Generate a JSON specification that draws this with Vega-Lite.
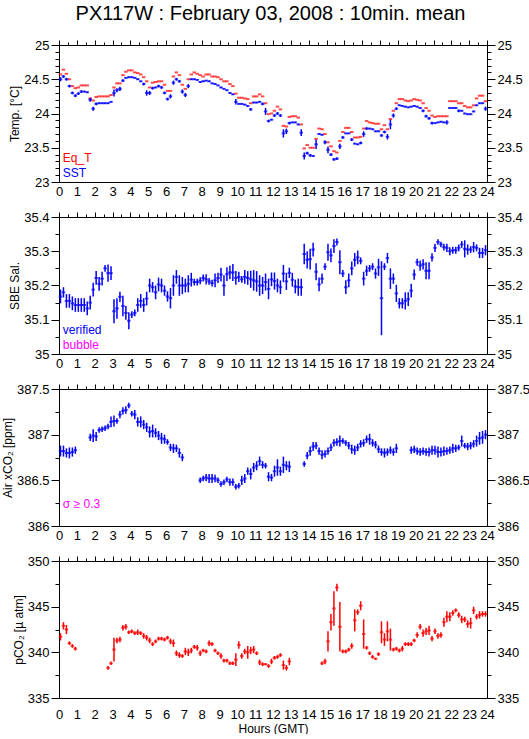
{
"$schema":"https://vega.github.io/schema/vega-lite/v6.json",
"background":"white",
"padding":{"left":1,"top":4,"right":0,"bottom":0},
"title":{"text":"PX117W : February 03, 2008 : 10min. mean","fontSize":20,"font":"Liberation Sans","fontWeight":"normal","color":"#000000","offset":15,"anchor":"middle","dx":5},
"config":{"view":{"stroke":null},"axis":{"labelFont":"Liberation Sans","labelFontSize":13,"labelColor":"#000000","titleFont":"Liberation Sans","titleFontSize":12,"titleFontWeight":"normal","titleColor":"#000000","domainColor":"#000000","tickColor":"#000000","grid":false,"labelOverlap":false,"labelFlush":false}},
"data":{"values":[
{"m":5,"eq":24.57,"s":24.5,"se":0.03,"sa":35.168,"sae":0.02,"x":386.82,"xe":0.06,"p":341.7,"pe":0.4},
{"m":15,"eq":24.64,"s":24.54,"se":0.02,"sa":35.18,"sae":0.015,"x":386.82,"xe":0.06,"p":342.9,"pe":0.4},
{"m":25,"eq":24.58,"s":24.5,"se":0.02,"sa":35.155,"sae":0.02,"x":386.8,"xe":0.05,"p":342.5,"pe":0.5},
{"m":35,"eq":24.5,"s":24.4,"se":0.02,"sa":35.155,"sae":0.02,"x":386.8,"xe":0.06,"p":341.0,"pe":0.2},
{"m":45,"eq":24.4,"s":24.3,"se":0.02,"sa":35.148,"sae":0.02,"x":386.81,"xe":0.05,"p":340.7,"pe":0.2},
{"m":55,"eq":24.37,"s":24.26,"se":0.02,"sa":35.143,"sae":0.02,"x":386.83,"xe":0.04,"p":340.4,"pe":0.2},
{"m":65,"eq":24.38,"s":24.29,"se":0.02,"sa":35.143,"sae":0.02},
{"m":75,"eq":24.41,"s":24.32,"se":0.02,"sa":35.143,"sae":0.02},
{"m":85,"eq":24.41,"s":24.32,"se":0.01,"sa":35.143,"sae":0.02},
{"m":95,"eq":24.41,"s":24.31,"se":0.01,"sa":35.133,"sae":0.02},
{"m":105,"eq":24.22,"s":24.2,"se":0.03,"sa":35.15,"sae":0.02,"x":386.97,"xe":0.04},
{"m":115,"eq":24.19,"s":24.07,"se":0.03,"sa":35.188,"sae":0.02,"x":386.99,"xe":0.07},
{"m":125,"eq":24.24,"s":24.14,"se":0.02,"sa":35.222,"sae":0.02,"x":386.98,"xe":0.05},
{"m":135,"eq":24.25,"s":24.15,"se":0.01,"sa":35.205,"sae":0.02,"x":387.05,"xe":0.03},
{"m":145,"eq":24.25,"s":24.15,"se":0.01,"sa":35.22,"sae":0.02,"x":387.06,"xe":0.03},
{"m":155,"eq":24.25,"s":24.15,"se":0.01,"sa":35.25,"sae":0.01,"x":387.07,"xe":0.03},
{"m":165,"eq":24.25,"s":24.15,"se":0.01,"sa":35.236,"sae":0.025,"x":387.09,"xe":0.03,"p":338.3,"pe":0.2},
{"m":175,"eq":24.27,"s":24.17,"se":0.01,"sa":35.236,"sae":0.02,"x":387.14,"xe":0.06,"p":338.8,"pe":0.2},
{"m":185,"eq":24.38,"s":24.3,"se":0.05,"sa":35.125,"sae":0.035,"x":387.15,"xe":0.06,"p":340.3,"pe":1.3},
{"m":195,"eq":24.44,"s":24.34,"se":0.03,"sa":35.133,"sae":0.03,"x":387.15,"xe":0.03,"p":341.3,"pe":0.3},
{"m":205,"eq":24.44,"s":24.36,"se":0.03,"sa":35.167,"sae":0.015,"x":387.22,"xe":0.04,"p":341.4,"pe":0.3},
{"m":215,"eq":24.56,"s":24.48,"se":0.02,"sa":35.14,"sae":0.03,"x":387.26,"xe":0.04,"p":342.7,"pe":0.3},
{"m":225,"eq":24.61,"s":24.52,"se":0.01,"sa":35.12,"sae":0.02,"x":387.27,"xe":0.04,"p":342.8,"pe":0.3},
{"m":235,"eq":24.63,"s":24.53,"se":0.01,"sa":35.097,"sae":0.025,"x":387.32,"xe":0.03,"p":342.2,"pe":0.2},
{"m":245,"eq":24.63,"s":24.53,"se":0.01,"sa":35.115,"sae":0.01,"x":387.23,"xe":0.03,"p":342.3,"pe":0.2},
{"m":255,"eq":24.6,"s":24.52,"se":0.01,"sa":35.12,"sae":0.01,"x":387.22,"xe":0.05,"p":342.1,"pe":0.2},
{"m":265,"eq":24.59,"s":24.5,"se":0.01,"sa":35.143,"sae":0.02,"x":387.14,"xe":0.05,"p":342.2,"pe":0.3},
{"m":275,"eq":24.57,"s":24.47,"se":0.01,"sa":35.155,"sae":0.02,"x":387.14,"xe":0.06,"p":342.1,"pe":0.2},
{"m":285,"eq":24.53,"s":24.43,"se":0.02,"sa":35.143,"sae":0.02,"x":387.11,"xe":0.05,"p":341.8,"pe":0.3},
{"m":295,"eq":24.47,"s":24.3,"se":0.04,"sa":35.162,"sae":0.02,"x":387.08,"xe":0.05,"p":341.6,"pe":0.3},
{"m":305,"eq":24.38,"s":24.3,"se":0.03,"sa":35.2,"sae":0.02,"x":387.03,"xe":0.06,"p":341.3,"pe":0.3},
{"m":315,"eq":24.45,"s":24.37,"se":0.02,"sa":35.195,"sae":0.015,"x":387.04,"xe":0.07,"p":340.9,"pe":0.2},
{"m":325,"eq":24.46,"s":24.38,"se":0.01,"sa":35.18,"sae":0.02,"x":387.02,"xe":0.05,"p":341.2,"pe":0.2},
{"m":335,"eq":24.47,"s":24.4,"se":0.02,"sa":35.203,"sae":0.02,"x":386.99,"xe":0.05,"p":341.5,"pe":0.2},
{"m":345,"eq":24.47,"s":24.38,"se":0.02,"sa":35.2,"sae":0.02,"x":386.96,"xe":0.06,"p":341.5,"pe":0.2},
{"m":355,"eq":24.42,"s":24.3,"se":0.02,"sa":35.185,"sae":0.015,"x":386.95,"xe":0.05,"p":341.4,"pe":0.2},
{"m":365,"eq":24.33,"s":24.21,"se":0.02,"sa":35.168,"sae":0.015,"x":386.92,"xe":0.03,"p":341.6,"pe":0.2},
{"m":375,"eq":24.33,"s":24.25,"se":0.03,"sa":35.163,"sae":0.03,"x":386.86,"xe":0.04,"p":341.2,"pe":0.3},
{"m":385,"eq":24.54,"s":24.45,"se":0.03,"sa":35.2,"sae":0.03,"x":386.85,"xe":0.05,"p":341.0,"pe":0.4},
{"m":395,"eq":24.6,"s":24.5,"se":0.02,"sa":35.225,"sae":0.02,"x":386.85,"xe":0.04,"p":339.9,"pe":0.3},
{"m":405,"eq":24.56,"s":24.47,"se":0.02,"sa":35.2,"sae":0.03,"x":386.8,"xe":0.05,"p":339.7,"pe":0.3},
{"m":415,"eq":24.42,"s":24.32,"se":0.03,"sa":35.2,"sae":0.025,"x":386.75,"xe":0.04,"p":339.6,"pe":0.2},
{"m":425,"eq":24.36,"s":24.27,"se":0.03,"sa":35.2,"sae":0.02,"p":340.1,"pe":0.4},
{"m":435,"eq":24.5,"s":24.4,"se":0.03,"sa":35.205,"sae":0.025,"p":340.0,"pe":0.4},
{"m":445,"eq":24.57,"s":24.5,"se":0.01,"sa":35.217,"sae":0.02,"p":340.2,"pe":0.3},
{"m":455,"eq":24.6,"s":24.5,"se":0.01,"sa":35.21,"sae":0.01,"p":340.6,"pe":0.2},
{"m":465,"eq":24.58,"s":24.49,"se":0.01,"sa":35.21,"sae":0.01,"p":340.5,"pe":0.3},
{"m":475,"eq":24.56,"s":24.46,"se":0.01,"sa":35.214,"sae":0.01,"x":386.5,"xe":0.03,"p":339.9,"pe":0.3},
{"m":485,"eq":24.54,"s":24.47,"se":0.01,"sa":35.222,"sae":0.01,"x":386.52,"xe":0.03,"p":340.2,"pe":0.2},
{"m":495,"eq":24.57,"s":24.48,"se":0.01,"sa":35.218,"sae":0.015,"x":386.53,"xe":0.04,"p":340.1,"pe":0.2},
{"m":505,"eq":24.57,"s":24.47,"se":0.01,"sa":35.212,"sae":0.01,"x":386.52,"xe":0.05,"p":341.0,"pe":0.3},
{"m":515,"eq":24.54,"s":24.44,"se":0.01,"sa":35.207,"sae":0.01,"x":386.52,"xe":0.05,"p":340.9,"pe":0.2},
{"m":525,"eq":24.54,"s":24.43,"se":0.01,"sa":35.215,"sae":0.02,"x":386.52,"xe":0.04,"p":340.2,"pe":0.2},
{"m":535,"eq":24.53,"s":24.41,"se":0.01,"sa":35.222,"sae":0.015,"x":386.5,"xe":0.03,"p":339.9,"pe":0.2},
{"m":545,"eq":24.5,"s":24.38,"se":0.01,"sa":35.232,"sae":0.02,"x":386.46,"xe":0.03,"p":339.6,"pe":0.3},
{"m":555,"eq":24.47,"s":24.36,"se":0.01,"sa":35.2,"sae":0.03,"x":386.48,"xe":0.03,"p":339.1,"pe":0.2},
{"m":565,"eq":24.47,"s":24.34,"se":0.01,"sa":35.233,"sae":0.02,"x":386.51,"xe":0.03,"p":339.1,"pe":0.2},
{"m":575,"eq":24.43,"s":24.3,"se":0.01,"sa":35.238,"sae":0.02,"x":386.48,"xe":0.04,"p":338.8,"pe":0.2},
{"m":585,"eq":24.4,"s":24.28,"se":0.01,"sa":35.238,"sae":0.025,"x":386.48,"xe":0.04,"p":338.8,"pe":0.2},
{"m":595,"eq":24.29,"s":24.17,"se":0.04,"sa":35.222,"sae":0.02,"x":386.43,"xe":0.03,"p":339.2,"pe":0.7},
{"m":605,"eq":24.23,"s":24.14,"se":0.01,"sa":35.225,"sae":0.015,"x":386.44,"xe":0.03,"p":340.8,"pe":0.4},
{"m":615,"eq":24.23,"s":24.14,"se":0.01,"sa":35.218,"sae":0.01,"x":386.5,"xe":0.05,"p":339.6,"pe":0.3},
{"m":625,"eq":24.22,"s":24.13,"se":0.01,"sa":35.225,"sae":0.02,"x":386.52,"xe":0.05,"p":340.1,"pe":0.3},
{"m":635,"eq":24.21,"s":24.11,"se":0.01,"sa":35.222,"sae":0.02,"x":386.6,"xe":0.04,"p":340.0,"pe":0.7},
{"m":645,"eq":24.15,"s":24.06,"se":0.02,"sa":35.218,"sae":0.025,"x":386.57,"xe":0.06,"p":340.2,"pe":0.4},
{"m":655,"eq":24.25,"s":24.16,"se":0.01,"sa":35.215,"sae":0.03,"x":386.64,"xe":0.05,"p":340.3,"pe":0.4},
{"m":665,"eq":24.25,"s":24.16,"se":0.01,"sa":35.212,"sae":0.03,"x":386.66,"xe":0.05,"p":339.9,"pe":0.2},
{"m":675,"eq":24.28,"s":24.17,"se":0.01,"sa":35.2,"sae":0.03,"x":386.71,"xe":0.05,"p":338.9,"pe":0.3},
{"m":685,"eq":24.25,"s":24.14,"se":0.02,"sa":35.2,"sae":0.025,"x":386.67,"xe":0.04,"p":338.7,"pe":0.2},
{"m":695,"eq":24.15,"s":24.03,"se":0.05,"sa":35.21,"sae":0.025,"x":386.66,"xe":0.03,"p":338.7,"pe":0.1},
{"m":705,"eq":23.99,"s":23.89,"se":0.02,"sa":35.19,"sae":0.03,"x":386.54,"xe":0.05,"p":338.5,"pe":0.2},
{"m":715,"eq":24.0,"s":23.91,"se":0.01,"sa":35.218,"sae":0.02,"x":386.53,"xe":0.04,"p":339.0,"pe":0.3},
{"m":725,"eq":24.04,"s":23.97,"se":0.02,"sa":35.213,"sae":0.025,"x":386.6,"xe":0.06,"p":339.4,"pe":0.2},
{"m":735,"eq":24.1,"s":24.0,"se":0.02,"sa":35.2,"sae":0.02,"x":386.64,"xe":0.09,"p":339.5,"pe":0.2},
{"m":745,"eq":24.06,"s":23.97,"se":0.02,"sa":35.195,"sae":0.02,"x":386.6,"xe":0.05,"p":339.7,"pe":0.2},
{"m":755,"eq":23.82,"s":23.71,"se":0.06,"sa":35.235,"sae":0.025,"x":386.67,"xe":0.09,"p":338.6,"pe":0.5},
{"m":765,"eq":23.81,"s":23.74,"se":0.04,"sa":35.212,"sae":0.025,"x":386.66,"xe":0.05,"p":338.3,"pe":0.3},
{"m":775,"eq":23.95,"s":23.86,"se":0.02,"sa":35.237,"sae":0.015,"x":386.65,"xe":0.06,"p":339.0,"pe":0.4},
{"m":785,"eq":23.96,"s":23.87,"se":0.01,"sa":35.217,"sae":0.02},
{"m":795,"eq":23.96,"s":23.87,"se":0.01,"sa":35.197,"sae":0.02},
{"m":805,"eq":23.94,"s":23.84,"se":0.01,"sa":35.195,"sae":0.025},
{"m":815,"eq":23.84,"s":23.72,"se":0.05,"sa":35.195,"sae":0.025},
{"m":825,"eq":23.49,"s":23.38,"se":0.05,"sa":35.292,"sae":0.03,"x":386.68,"xe":0.03},
{"m":835,"eq":23.54,"s":23.42,"se":0.02,"sa":35.275,"sae":0.025,"x":386.77,"xe":0.04},
{"m":845,"eq":23.5,"s":23.39,"se":0.02,"sa":35.277,"sae":0.03,"x":386.82,"xe":0.05},
{"m":855,"eq":23.5,"s":23.38,"se":0.01,"sa":35.305,"sae":0.02,"x":386.87,"xe":0.05},
{"m":865,"eq":23.63,"s":23.55,"se":0.07,"sa":35.24,"sae":0.025,"x":386.88,"xe":0.04},
{"m":875,"eq":23.78,"s":23.7,"se":0.01,"sa":35.203,"sae":0.02,"x":386.82,"xe":0.04},
{"m":885,"eq":23.77,"s":23.69,"se":0.01,"sa":35.22,"sae":0.015,"x":386.78,"xe":0.05,"p":338.8,"pe":0.2},
{"m":895,"eq":23.7,"s":23.58,"se":0.03,"sa":35.255,"sae":0.01,"x":386.79,"xe":0.04,"p":339.0,"pe":0.3},
{"m":905,"eq":23.58,"s":23.47,"se":0.05,"sa":35.297,"sae":0.025,"x":386.82,"xe":0.04,"p":341.2,"pe":1.1},
{"m":915,"eq":23.52,"s":23.4,"se":0.02,"sa":35.288,"sae":0.02,"x":386.86,"xe":0.04,"p":343.3,"pe":0.9},
{"m":925,"eq":23.45,"s":23.33,"se":0.02,"sa":35.315,"sae":0.02,"x":386.91,"xe":0.04,"p":344.8,"pe":1.9},
{"m":935,"eq":23.43,"s":23.34,"se":0.02,"sa":35.327,"sae":0.01,"x":386.92,"xe":0.04,"p":347.1,"pe":0.4},
{"m":945,"eq":23.6,"s":23.52,"se":0.04,"sa":35.268,"sae":0.035,"x":386.93,"xe":0.06,"p":342.8,"pe":2.7},
{"m":955,"eq":23.73,"s":23.65,"se":0.02,"sa":35.235,"sae":0.01,"x":386.93,"xe":0.03,"p":340.1,"pe":0.2},
{"m":965,"eq":23.79,"s":23.71,"se":0.01,"sa":35.195,"sae":0.02,"x":386.91,"xe":0.03,"p":340.1,"pe":0.2},
{"m":975,"eq":23.79,"s":23.71,"se":0.01,"sa":35.215,"sae":0.02,"x":386.88,"xe":0.04,"p":340.3,"pe":0.2},
{"m":985,"eq":23.73,"s":23.62,"se":0.02,"sa":35.25,"sae":0.02,"x":386.84,"xe":0.05,"p":340.7,"pe":0.3},
{"m":995,"eq":23.65,"s":23.56,"se":0.01,"sa":35.275,"sae":0.02,"x":386.83,"xe":0.05,"p":343.5,"pe":1.2},
{"m":1005,"eq":23.65,"s":23.55,"se":0.01,"sa":35.282,"sae":0.02,"x":386.86,"xe":0.04,"p":344.4,"pe":0.3},
{"m":1015,"eq":23.66,"s":23.57,"se":0.02,"sa":35.272,"sae":0.01,"x":386.9,"xe":0.04,"p":345.1,"pe":0.5},
{"m":1025,"eq":23.78,"s":23.7,"se":0.04,"sa":35.22,"sae":0.02,"x":386.91,"xe":0.04,"p":342.0,"pe":1.6},
{"m":1035,"eq":23.89,"s":23.78,"se":0.02,"sa":35.243,"sae":0.015,"x":386.95,"xe":0.04,"p":340.5,"pe":0.2},
{"m":1045,"eq":23.87,"s":23.78,"se":0.01,"sa":35.25,"sae":0.01,"x":386.95,"xe":0.06,"p":339.9,"pe":0.2},
{"m":1055,"eq":23.86,"s":23.77,"se":0.01,"sa":35.255,"sae":0.01,"x":386.91,"xe":0.04,"p":339.5,"pe":0.2},
{"m":1065,"eq":23.85,"s":23.74,"se":0.01,"sa":35.235,"sae":0.015,"x":386.89,"xe":0.04,"p":339.3,"pe":0.1},
{"m":1075,"eq":23.85,"s":23.74,"se":0.01,"sa":35.253,"sae":0.025,"x":386.84,"xe":0.04,"p":339.8,"pe":0.2},
{"m":1085,"eq":23.77,"s":23.68,"se":0.02,"sa":35.163,"sae":0.108,"x":386.81,"xe":0.04,"p":342.2,"pe":1.2},
{"m":1095,"eq":23.83,"s":23.73,"se":0.02,"sa":35.255,"sae":0.01,"x":386.8,"xe":0.05,"p":341.4,"pe":0.7},
{"m":1105,"eq":23.77,"s":23.66,"se":0.04,"sa":35.28,"sae":0.015,"x":386.81,"xe":0.04,"p":342.3,"pe":1.1},
{"m":1115,"eq":23.92,"s":23.84,"se":0.07,"sa":35.22,"sae":0.03,"x":386.83,"xe":0.04,"p":341.4,"pe":1.2},
{"m":1125,"eq":24.04,"s":23.97,"se":0.03,"sa":35.22,"sae":0.015,"x":386.81,"xe":0.04,"p":340.3,"pe":0.2},
{"m":1135,"eq":24.15,"s":24.07,"se":0.02,"sa":35.177,"sae":0.025,"x":386.85,"xe":0.05,"p":340.4,"pe":0.2},
{"m":1145,"eq":24.21,"s":24.12,"se":0.01,"sa":35.148,"sae":0.015,"p":340.2,"pe":0.2},
{"m":1155,"eq":24.21,"s":24.11,"se":0.01,"sa":35.148,"sae":0.015,"p":340.4,"pe":0.3},
{"m":1165,"eq":24.19,"s":24.1,"se":0.01,"sa":35.155,"sae":0.025,"p":340.9,"pe":0.2},
{"m":1175,"eq":24.18,"s":24.09,"se":0.01,"sa":35.16,"sae":0.02,"p":340.9,"pe":0.2},
{"m":1185,"eq":24.19,"s":24.1,"se":0.01,"sa":35.185,"sae":0.02,"x":386.83,"xe":0.04,"p":340.9,"pe":0.2},
{"m":1195,"eq":24.21,"s":24.11,"se":0.01,"sa":35.232,"sae":0.015,"x":386.84,"xe":0.04,"p":341.3,"pe":0.2},
{"m":1205,"eq":24.2,"s":24.1,"se":0.01,"sa":35.268,"sae":0.01,"x":386.82,"xe":0.04,"p":341.9,"pe":0.3},
{"m":1215,"eq":24.19,"s":24.08,"se":0.01,"sa":35.258,"sae":0.015,"x":386.81,"xe":0.04,"p":342.8,"pe":0.3},
{"m":1225,"eq":24.15,"s":24.04,"se":0.02,"sa":35.262,"sae":0.015,"x":386.82,"xe":0.04,"p":342.1,"pe":0.4},
{"m":1235,"eq":24.08,"s":23.96,"se":0.02,"sa":35.243,"sae":0.025,"x":386.81,"xe":0.04,"p":342.3,"pe":0.4},
{"m":1245,"eq":24.04,"s":23.93,"se":0.02,"sa":35.243,"sae":0.025,"x":386.81,"xe":0.05,"p":342.4,"pe":0.5},
{"m":1255,"eq":23.97,"s":23.86,"se":0.02,"sa":35.282,"sae":0.012,"x":386.83,"xe":0.05,"p":341.5,"pe":0.3},
{"m":1265,"eq":23.95,"s":23.86,"se":0.01,"sa":35.31,"sae":0.012,"x":386.83,"xe":0.05,"p":342.3,"pe":0.3},
{"m":1275,"eq":23.96,"s":23.87,"se":0.01,"sa":35.327,"sae":0.008,"x":386.81,"xe":0.06,"p":341.8,"pe":0.3},
{"m":1285,"eq":23.96,"s":23.88,"se":0.01,"sa":35.32,"sae":0.008,"x":386.81,"xe":0.05,"p":341.9,"pe":0.3},
{"m":1295,"eq":23.96,"s":23.87,"se":0.01,"sa":35.312,"sae":0.01,"x":386.82,"xe":0.05,"p":343.3,"pe":0.5},
{"m":1305,"eq":23.96,"s":23.87,"se":0.03,"sa":35.31,"sae":0.012,"x":386.82,"xe":0.04,"p":343.9,"pe":0.6},
{"m":1315,"eq":24.18,"s":24.08,"se":0.01,"sa":35.3,"sae":0.012,"x":386.83,"xe":0.04,"p":343.9,"pe":0.5},
{"m":1325,"eq":24.18,"s":24.08,"se":0.01,"sa":35.303,"sae":0.01,"x":386.85,"xe":0.05,"p":344.3,"pe":0.3},
{"m":1335,"eq":24.18,"s":24.08,"se":0.01,"sa":35.303,"sae":0.01,"x":386.85,"xe":0.04,"p":344.6,"pe":0.2},
{"m":1345,"eq":24.15,"s":24.04,"se":0.02,"sa":35.31,"sae":0.01,"x":386.86,"xe":0.03,"p":344.1,"pe":0.3},
{"m":1355,"eq":24.15,"s":24.04,"se":0.01,"sa":35.32,"sae":0.01,"x":386.93,"xe":0.06,"p":343.6,"pe":0.4},
{"m":1365,"eq":24.11,"s":24.0,"se":0.01,"sa":35.307,"sae":0.025,"x":386.88,"xe":0.03,"p":343.6,"pe":0.3},
{"m":1375,"eq":24.09,"s":23.99,"se":0.01,"sa":35.305,"sae":0.015,"x":386.87,"xe":0.04,"p":343.1,"pe":0.4},
{"m":1385,"eq":24.09,"s":23.99,"se":0.01,"sa":35.305,"sae":0.01,"x":386.88,"xe":0.04,"p":343.2,"pe":0.6},
{"m":1395,"eq":24.12,"s":24.03,"se":0.01,"sa":35.312,"sae":0.015,"x":386.9,"xe":0.04,"p":344.6,"pe":0.4},
{"m":1405,"eq":24.22,"s":24.12,"se":0.01,"sa":35.31,"sae":0.01,"x":386.93,"xe":0.06,"p":343.9,"pe":0.3},
{"m":1415,"eq":24.26,"s":24.15,"se":0.01,"sa":35.295,"sae":0.015,"x":386.96,"xe":0.07,"p":344.1,"pe":0.4},
{"m":1425,"eq":24.26,"s":24.15,"se":0.01,"sa":35.295,"sae":0.015,"x":386.97,"xe":0.07,"p":344.2,"pe":0.3},
{"m":1435,"eq":24.18,"s":24.07,"se":0.03,"sa":35.303,"sae":0.015,"x":387.0,"xe":0.05,"p":344.2,"pe":0.3}
]},
"vconcat":[
{"width":428,"height":137,
 "layer":[
  {"transform":[{"filter":"isValid(datum.eq)"}],
   "mark":{"type":"tick","orient":"horizontal","size":3.5,"thickness":2,"color":"#ff0000"},
   "encoding":{"x":{"field":"m","type":"quantitative","scale":{"domain":[0,1440],"nice":false},"axis":null},
    "y":{"field":"eq","type":"quantitative","scale":{"domain":[23,25],"nice":false,"zero":false},"axis":null}}},
  {"mark":{"type":"tick","orient":"horizontal","size":3.5,"thickness":2,"color":"#0000ff"},
   "encoding":{"x":{"field":"m","type":"quantitative","scale":{"domain":[0,1440],"nice":false},"axis":{"orient":"bottom","values":[0,60,120,180,240,300,360,420,480,540,600,660,720,780,840,900,960,1020,1080,1140,1200,1260,1320,1380,1440],"labelExpr":"format(datum.value/60,'d')","ticks":false,"labelPadding":3,"title":null}},
    "y":{"field":"s","type":"quantitative","scale":{"domain":[23,25],"nice":false,"zero":false},"axis":{"orient":"left","values":[23,23.1,23.2,23.3,23.4,23.5,23.6,23.7,23.8,23.9,24,24.1,24.2,24.3,24.4,24.5,24.6,24.7,24.8,24.9,25],"labelExpr":"abs(datum.value*2-round(datum.value*2))<0.001 ? format(datum.value,'~g') : ''","tickSize":{"condition":{"test":"abs(datum.value*2-round(datum.value*2))<0.001","value":8},"value":4},"labelPadding":2,"title":"Temp. [°C]","titlePadding":2}}}},
  {"mark":{"type":"errorbar","color":"#0000ff","thickness":1.5},
   "encoding":{"x":{"field":"m","type":"quantitative","scale":{"domain":[0,1440],"nice":false},"axis":{"orient":"top","values":[0,30,60,90,120,150,180,210,240,270,300,330,360,390,420,450,480,510,540,570,600,630,660,690,720,750,780,810,840,870,900,930,960,990,1020,1050,1080,1110,1140,1170,1200,1230,1260,1290,1320,1350,1380,1410,1440],"labels":false,"tickSize":{"condition":{"test":"datum.value%60==0","value":5},"value":3},"title":null}},
    "y":{"field":"s","type":"quantitative","scale":{"domain":[23,25],"nice":false,"zero":false},"axis":{"orient":"right","values":[23,23.1,23.2,23.3,23.4,23.5,23.6,23.7,23.8,23.9,24,24.1,24.2,24.3,24.4,24.5,24.6,24.7,24.8,24.9,25],"labelExpr":"abs(datum.value*2-round(datum.value*2))<0.001 ? format(datum.value,'~g') : ''","tickSize":{"condition":{"test":"abs(datum.value*2-round(datum.value*2))<0.001","value":8},"value":4},"labelPadding":2,"title":null}},
    "yError":{"field":"se"}}},
  {"data":{"values":[{}]},"mark":{"type":"text","align":"left","baseline":"alphabetic","font":"Liberation Sans","fontSize":12,"color":"#ff0000"},
   "encoding":{"x":{"datum":13,"type":"quantitative","scale":{"domain":[0,1440],"nice":false},"axis":null},"y":{"datum":23.29,"type":"quantitative","scale":{"domain":[23,25],"nice":false,"zero":false},"axis":null},"text":{"value":"Eq_T"}}},
  {"data":{"values":[{}]},"mark":{"type":"text","align":"left","baseline":"alphabetic","font":"Liberation Sans","fontSize":12,"color":"#0000ff"},
   "encoding":{"x":{"datum":13,"type":"quantitative","scale":{"domain":[0,1440],"nice":false},"axis":null},"y":{"datum":23.08,"type":"quantitative","scale":{"domain":[23,25],"nice":false,"zero":false},"axis":null},"text":{"value":"SST"}}}
 ],
 "resolve":{"scale":{"x":"independent","y":"independent"}}},
{"width":428,"height":137,
 "layer":[
  {"mark":{"type":"tick","orient":"horizontal","size":3.5,"thickness":2,"color":"#0000ff"},
   "encoding":{"x":{"field":"m","type":"quantitative","scale":{"domain":[0,1440],"nice":false},"axis":{"orient":"bottom","values":[0,60,120,180,240,300,360,420,480,540,600,660,720,780,840,900,960,1020,1080,1140,1200,1260,1320,1380,1440],"labelExpr":"format(datum.value/60,'d')","ticks":false,"labelPadding":3,"title":null}},
    "y":{"field":"sa","type":"quantitative","scale":{"domain":[35,35.4],"nice":false,"zero":false},"axis":{"orient":"left","values":[35,35.05,35.1,35.15,35.2,35.25,35.3,35.35,35.4],"labelExpr":"abs(datum.value*10-round(datum.value*10))<0.001 ? format(datum.value,'~g') : ''","tickSize":{"condition":{"test":"abs(datum.value*10-round(datum.value*10))<0.001","value":8},"value":4},"labelPadding":2,"title":"SBE Sal.","titlePadding":2}}}},
  {"mark":{"type":"errorbar","color":"#0000ff","thickness":1.5},
   "encoding":{"x":{"field":"m","type":"quantitative","scale":{"domain":[0,1440],"nice":false},"axis":{"orient":"top","values":[0,30,60,90,120,150,180,210,240,270,300,330,360,390,420,450,480,510,540,570,600,630,660,690,720,750,780,810,840,870,900,930,960,990,1020,1050,1080,1110,1140,1170,1200,1230,1260,1290,1320,1350,1380,1410,1440],"labels":false,"tickSize":{"condition":{"test":"datum.value%60==0","value":5},"value":3},"title":null}},
    "y":{"field":"sa","type":"quantitative","scale":{"domain":[35,35.4],"nice":false,"zero":false},"axis":{"orient":"right","values":[35,35.05,35.1,35.15,35.2,35.25,35.3,35.35,35.4],"labelExpr":"abs(datum.value*10-round(datum.value*10))<0.001 ? format(datum.value,'~g') : ''","tickSize":{"condition":{"test":"abs(datum.value*10-round(datum.value*10))<0.001","value":8},"value":4},"labelPadding":2,"title":null}},
    "yError":{"field":"sae"}}},
  {"data":{"values":[{}]},"mark":{"type":"text","align":"left","baseline":"alphabetic","font":"Liberation Sans","fontSize":12,"color":"#0000ff"},
   "encoding":{"x":{"datum":13,"type":"quantitative","scale":{"domain":[0,1440],"nice":false},"axis":null},"y":{"datum":35.058,"type":"quantitative","scale":{"domain":[35,35.4],"nice":false,"zero":false},"axis":null},"text":{"value":"verified"}}},
  {"data":{"values":[{}]},"mark":{"type":"text","align":"left","baseline":"alphabetic","font":"Liberation Sans","fontSize":12,"color":"#ff00ff"},
   "encoding":{"x":{"datum":13,"type":"quantitative","scale":{"domain":[0,1440],"nice":false},"axis":null},"y":{"datum":35.016,"type":"quantitative","scale":{"domain":[35,35.4],"nice":false,"zero":false},"axis":null},"text":{"value":"bubble"}}}
 ],
 "resolve":{"scale":{"x":"independent","y":"independent"}}},
{"width":428,"height":137,
 "layer":[
  {"transform":[{"filter":"isValid(datum.x)"}],
   "mark":{"type":"tick","orient":"horizontal","size":3.5,"thickness":2,"color":"#0000ff"},
   "encoding":{"x":{"field":"m","type":"quantitative","scale":{"domain":[0,1440],"nice":false},"axis":{"orient":"bottom","values":[0,60,120,180,240,300,360,420,480,540,600,660,720,780,840,900,960,1020,1080,1140,1200,1260,1320,1380,1440],"labelExpr":"format(datum.value/60,'d')","ticks":false,"labelPadding":3,"title":null}},
    "y":{"field":"x","type":"quantitative","scale":{"domain":[386,387.5],"nice":false,"zero":false},"axis":{"orient":"left","values":[386,386.25,386.5,386.75,387,387.25,387.5],"labelExpr":"abs(datum.value*2-round(datum.value*2))<0.001 ? format(datum.value,'~g') : ''","tickSize":{"condition":{"test":"abs(datum.value*2-round(datum.value*2))<0.001","value":8},"value":4},"labelPadding":2,"title":"Air xCO₂ [ppm]","titlePadding":2}}}},
  {"transform":[{"filter":"isValid(datum.x)"}],
   "mark":{"type":"errorbar","color":"#0000ff","thickness":1.5},
   "encoding":{"x":{"field":"m","type":"quantitative","scale":{"domain":[0,1440],"nice":false},"axis":{"orient":"top","values":[0,30,60,90,120,150,180,210,240,270,300,330,360,390,420,450,480,510,540,570,600,630,660,690,720,750,780,810,840,870,900,930,960,990,1020,1050,1080,1110,1140,1170,1200,1230,1260,1290,1320,1350,1380,1410,1440],"labels":false,"tickSize":{"condition":{"test":"datum.value%60==0","value":5},"value":3},"title":null}},
    "y":{"field":"x","type":"quantitative","scale":{"domain":[386,387.5],"nice":false,"zero":false},"axis":{"orient":"right","values":[386,386.25,386.5,386.75,387,387.25,387.5],"labelExpr":"abs(datum.value*2-round(datum.value*2))<0.001 ? format(datum.value,'~g') : ''","tickSize":{"condition":{"test":"abs(datum.value*2-round(datum.value*2))<0.001","value":8},"value":4},"labelPadding":2,"title":null}},
    "yError":{"field":"xe"}}},
  {"data":{"values":[{}]},"mark":{"type":"text","align":"left","baseline":"alphabetic","font":"Liberation Sans","fontSize":12,"color":"#ff00ff"},
   "encoding":{"x":{"datum":13,"type":"quantitative","scale":{"domain":[0,1440],"nice":false},"axis":null},"y":{"datum":386.2,"type":"quantitative","scale":{"domain":[386,387.5],"nice":false,"zero":false},"axis":null},"text":{"value":"σ ≥ 0.3"}}}
 ],
 "resolve":{"scale":{"x":"independent","y":"independent"}}},
{"width":428,"height":137,
 "layer":[
  {"transform":[{"filter":"isValid(datum.p)"}],
   "mark":{"type":"tick","orient":"horizontal","size":3.5,"thickness":2,"color":"#ff0000"},
   "encoding":{"x":{"field":"m","type":"quantitative","scale":{"domain":[0,1440],"nice":false},"axis":{"orient":"bottom","values":[0,60,120,180,240,300,360,420,480,540,600,660,720,780,840,900,960,1020,1080,1140,1200,1260,1320,1380,1440],"labelExpr":"format(datum.value/60,'d')","ticks":false,"labelPadding":10,"title":"Hours (GMT)","titlePadding":2}},
    "y":{"field":"p","type":"quantitative","scale":{"domain":[335,350],"nice":false,"zero":false},"axis":{"orient":"left","values":[335,337.5,340,342.5,345,347.5,350],"labelExpr":"datum.value%5==0 ? format(datum.value,'~g') : ''","tickSize":{"condition":{"test":"datum.value%5==0","value":8},"value":4},"labelPadding":2,"title":"pCO₂ [µ atm]","titlePadding":2}}}},
  {"transform":[{"filter":"isValid(datum.p)"}],
   "mark":{"type":"errorbar","color":"#ff0000","thickness":1.5},
   "encoding":{"x":{"field":"m","type":"quantitative","scale":{"domain":[0,1440],"nice":false},"axis":{"orient":"top","values":[0,30,60,90,120,150,180,210,240,270,300,330,360,390,420,450,480,510,540,570,600,630,660,690,720,750,780,810,840,870,900,930,960,990,1020,1050,1080,1110,1140,1170,1200,1230,1260,1290,1320,1350,1380,1410,1440],"labels":false,"tickSize":{"condition":{"test":"datum.value%60==0","value":5},"value":3},"title":null}},
    "y":{"field":"p","type":"quantitative","scale":{"domain":[335,350],"nice":false,"zero":false},"axis":{"orient":"right","values":[335,337.5,340,342.5,345,347.5,350],"labelExpr":"datum.value%5==0 ? format(datum.value,'~g') : ''","tickSize":{"condition":{"test":"datum.value%5==0","value":8},"value":4},"labelPadding":2,"title":null}},
    "yError":{"field":"pe"}}}
 ],
 "resolve":{"scale":{"x":"independent","y":"independent"}}}
],
"spacing":35,
"bounds":"flush"
}
